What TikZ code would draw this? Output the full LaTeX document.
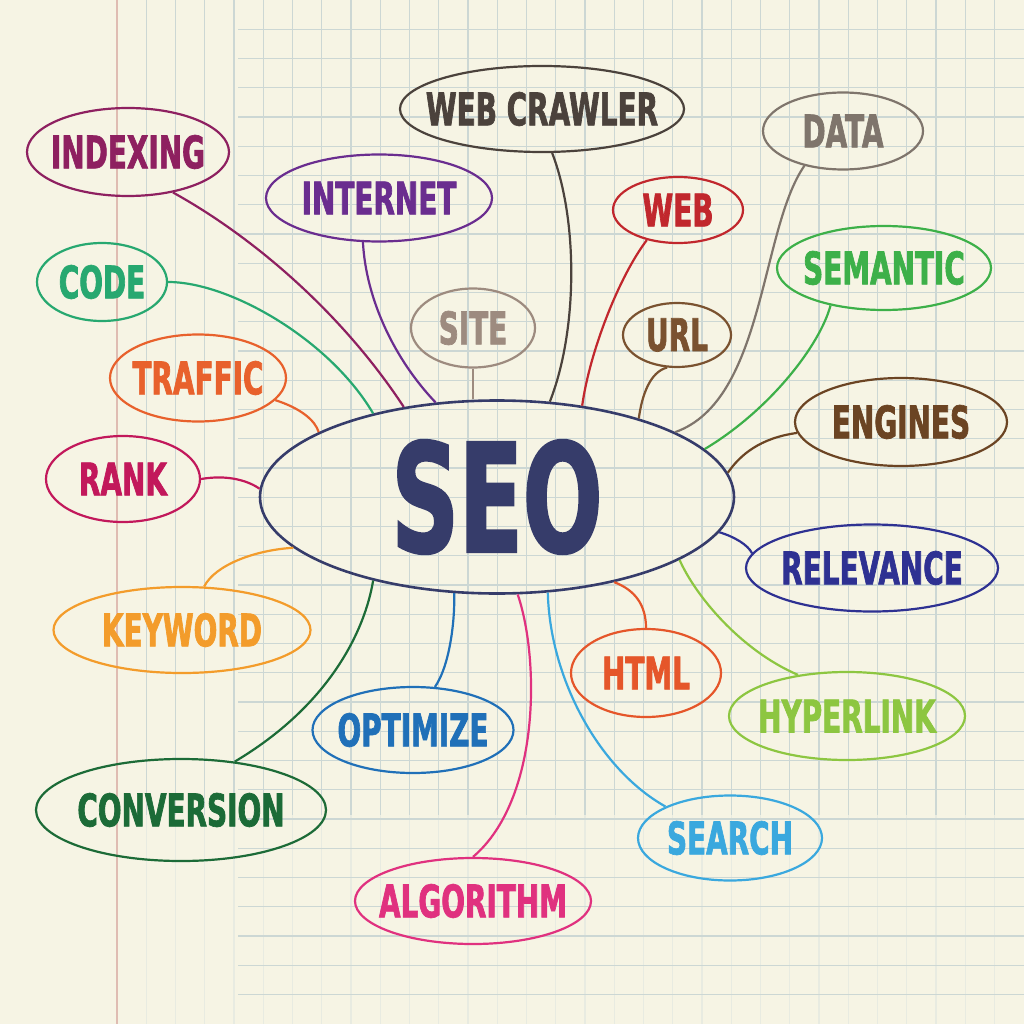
\documentclass[tikz,border=0pt]{standalone}
\usepackage{fontspec}
\usepackage{xcolor}
\usepackage{tikz}
\usetikzlibrary{shapes.geometric}

\newfontfamily\seofont{DejaVu Sans}[FakeStretch=0.62, FakeBold=1.5]
\newcommand{\kwbox}[1]{\makebox[0pt]{#1}}

\definecolor{paper}{HTML}{F6F4E4}
\definecolor{gridc}{HTML}{CCD7D4}
\definecolor{gridfade}{HTML}{E8EBE1}
\definecolor{margin}{HTML}{DFBCB2}
\definecolor{cindex}{HTML}{8E2060}
\definecolor{cinternet}{HTML}{6A2D8F}
\definecolor{ccrawler}{HTML}{4B423C}
\definecolor{cdata}{HTML}{7F756C}
\definecolor{cweb}{HTML}{C1272D}
\definecolor{csemantic}{HTML}{3DB049}
\definecolor{ccode}{HTML}{27A870}
\definecolor{csite}{HTML}{9D8B7F}
\definecolor{curl}{HTML}{7A5230}
\definecolor{ctraffic}{HTML}{E8612C}
\definecolor{cengines}{HTML}{6B4423}
\definecolor{crank}{HTML}{C2185B}
\definecolor{cseo}{HTML}{363C6A}
\definecolor{crelevance}{HTML}{2E3192}
\definecolor{ckeyword}{HTML}{F39C2B}
\definecolor{chtml}{HTML}{E5562A}
\definecolor{chyperlink}{HTML}{8DC641}
\definecolor{coptimize}{HTML}{2070B8}
\definecolor{cconversion}{HTML}{1C6B37}
\definecolor{csearch}{HTML}{3AA8DE}
\definecolor{calgorithm}{HTML}{E0317F}

\begin{document}
\begin{tikzpicture}[x=1pt,y=-1pt,
	bubble/.style={ellipse, draw, line width=2.2pt, inner sep=0pt,
		font=\seofont\bfseries\fontsize{45}{45}\selectfont},
	link/.style={line width=2.2pt}]
		% paper
		\fill[paper] (0,0) rectangle (1024,1024);
		\useasboundingbox (0,0) rectangle (1024,1024);
		\foreach \i in {1,...,30}{
			\draw[gridc, line width=1.1pt] ({117+29.25*\i},0) -- ({117+29.25*\i},815);
			\draw[gridfade, line width=1.1pt] ({117+29.25*\i},815) -- ({117+29.25*\i},1024);
		}
		\foreach \j in {1,...,34}{
			\draw[gridc, line width=1.1pt] (238,{29.25*\j}) -- (1024,{29.25*\j});
		}
		\draw[margin, line width=1.1pt] (117,0) -- (117,1024);
		
		% keywords
		\node[bubble, cindex, minimum width=202, minimum height=88] (indexing) at (128,152) {\kwbox{INDEXING}};
		\node[bubble, cinternet, minimum width=226, minimum height=87] (internet) at (379,198) {\kwbox{INTERNET}};
		\node[bubble, ccrawler, minimum width=284, minimum height=86] (crawler) at (542,109) {\kwbox{WEB CRAWLER}};
		\node[bubble, cdata, minimum width=160, minimum height=77] (data) at (843,131) {\kwbox{DATA}};
		\node[bubble, cweb, minimum width=130, minimum height=66] (web) at (678,210) {\kwbox{WEB}};
		\node[bubble, csemantic, minimum width=214, minimum height=84] (semantic) at (884,268) {\kwbox{SEMANTIC}};
		\node[bubble, ccode, minimum width=130, minimum height=78] (code) at (102,282) {\kwbox{CODE}};
		\node[bubble, csite, minimum width=124, minimum height=79] (site) at (473,328) {\kwbox{SITE}};
		\node[bubble, curl, minimum width=108, minimum height=64] (url) at (677,335) {\kwbox{URL}};
		\node[bubble, ctraffic, minimum width=176, minimum height=87] (traffic) at (198,378) {\kwbox{TRAFFIC}};
		\node[bubble, cengines, minimum width=212, minimum height=88] (engines) at (901,422) {\kwbox{ENGINES}};
		\node[bubble, crank, minimum width=154, minimum height=86] (rank) at (123,479) {\kwbox{RANK}};
		\node[bubble, crelevance, minimum width=252, minimum height=87] (relevance) at (872,568) {\kwbox{RELEVANCE}};
		\node[bubble, ckeyword, minimum width=257, minimum height=86] (keyword) at (182,630) {\kwbox{KEYWORD}};
		\node[bubble, chtml, minimum width=150, minimum height=88] (html) at (646,673) {\kwbox{HTML}};
		\node[bubble, chyperlink, minimum width=236, minimum height=88] (hyperlink) at (847,716) {\kwbox{HYPERLINK}};
		\node[bubble, coptimize, minimum width=201, minimum height=86] (optimize) at (413,730) {\kwbox{OPTIMIZE}};
		\node[bubble, cconversion, minimum width=290, minimum height=102] (conversion) at (181,810) {\kwbox{CONVERSION}};
		\node[bubble, csearch, minimum width=184, minimum height=85] (search) at (730,838) {\kwbox{SEARCH}};
		\node[bubble, calgorithm, minimum width=236, minimum height=86] (algorithm) at (473,901) {\kwbox{ALGORITHM}};
		
		\node[bubble, cseo, line width=2.6pt, minimum width=474, minimum height=193,
			font=\seofont\bfseries\fontsize{151}{151}\selectfont] (seo) at (497,497) {\kwbox{SEO}};
		
		% links to the centre
		\draw[link, cindex] (indexing.-42) .. controls (250,235) and (340,310) .. (seo.136);
		\draw[link, cinternet] (internet.-110) .. controls (366,300) and (395,360) .. (seo.123);
		\draw[link, ccrawler] (crawler.-77) .. controls (578,220) and (578,330) .. (seo.61);
		\draw[link, cdata] (data.-138) .. controls (760,230) and (765,400) .. (seo.20);
		\draw[link, cweb] (web.-136) .. controls (620,275) and (590,350) .. (seo.47);
		\draw[link, csemantic] (semantic.-145) .. controls (820,345) and (770,410) .. (seo.13);
		\draw[link, ccode] (code.east) .. controls (230,282) and (330,340) .. (seo.146);
		\draw[link, csite] (site.south) -- (seo.north -| site.south);
		\draw[link, curl] (url.-107) .. controls (650,372) and (642,395) .. (seo.29);
		\draw[link, ctraffic] (traffic.-16) .. controls (300,408) and (315,420) .. (seo.160);
		\draw[link, cengines] (engines.-174) .. controls (760,438) and (740,455) .. (seo.6);
		\draw[link, crank] (rank.east) .. controls (230,474) and (250,482) .. (seo.178);
		\draw[link, crelevance] (relevance.173) .. controls (748,545) and (735,537) .. (seo.-9);
		\draw[link, ckeyword] (keyword.63) .. controls (215,565) and (255,550) .. (seo.-166);
		\draw[link, chtml] (html.north) .. controls (646,605) and (635,590) .. (seo.-36);
		\draw[link, chyperlink] (hyperlink.140) .. controls (740,650) and (695,595) .. (seo.-19);
		\draw[link, coptimize] (optimize.63) .. controls (450,665) and (455,620) .. (seo.-114);
		\draw[link, cconversion] (conversion.42) .. controls (330,705) and (365,630) .. (seo.-146);
		\draw[link, csearch] (search.154) .. controls (600,770) and (550,680) .. (seo.-62);
		\draw[link, calgorithm] (algorithm.north) .. controls (540,800) and (540,660) .. (seo.-78);
	\end{tikzpicture}
\end{document}
